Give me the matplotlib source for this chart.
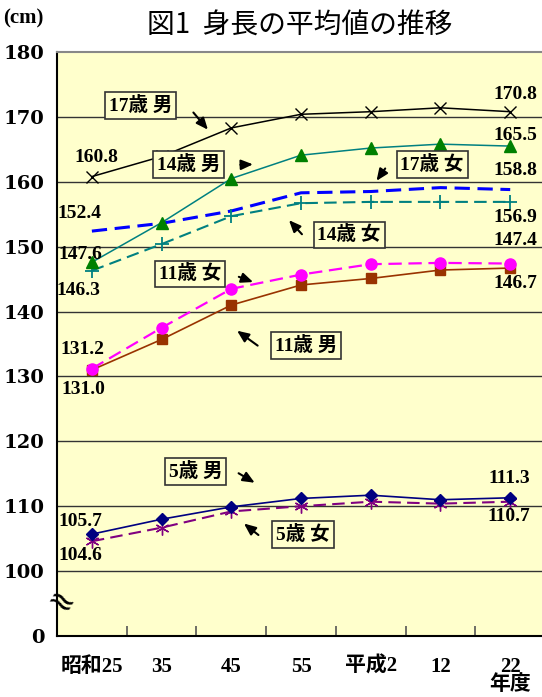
import numpy as np
import matplotlib.pyplot as plt

# 年度 (x categories)
years = ["昭和25", "35", "45", "55", "平成2", "12", "22\n年度"]

# 身長の平均値 (cm)
boy17 = [160.8, 163.9, 168.3, 170.4, 170.8, 171.4, 170.8]
boy14 = [147.6, 153.7, 160.5, 164.1, 165.2, 165.8, 165.5]
girl17 = [152.4, 153.6, 155.5, 158.3, 158.5, 159.1, 158.8]
girl14 = [146.3, 150.4, 154.7, 156.7, 156.9, 156.9, 156.9]
girl11 = [131.2, 137.5, 143.5, 145.7, 147.3, 147.5, 147.4]
boy11 = [131.0, 135.7, 141.0, 144.1, 145.1, 146.4, 146.7]
boy5 = [105.7, 108.0, 109.9, 111.2, 111.7, 111.0, 111.3]
girl5 = [104.6, 106.7, 109.2, 110.0, 110.7, 110.4, 110.7]

yticks = [90, 100, 110, 120, 130, 140, 150, 160, 170, 180]
ytick_labels = ["0", "100", "110", "120", "130", "140", "150", "160", "170", "180"]

NUM = ["Liberation Serif", "Noto Sans CJK JP"]
JP = ["Noto Sans CJK JP", "DejaVu Sans"]

fig = plt.figure(figsize=(5.42, 6.97), dpi=100)
ax = fig.add_axes([0.1052, 0.0875, 0.8948, 0.8379])
ax.set_facecolor("#FFFFCC")

x = np.arange(len(years))
asterisk = (6, 2, 0)

ax.plot(x, boy17, color="black", lw=1.1, marker="x", ms=9, mew=1.0, zorder=5)
ax.plot(x, boy14, color="#008080", lw=1.1, marker="^", ms=8, mfc="#008000",
        mec="#008000", zorder=5)
ax.plot(x, girl17, color="#0000FF", lw=2.2, dashes=(5, 2.5), zorder=4)
ax.plot(x, girl14, color="#008080", lw=1.5, dashes=(6, 3), marker="+", ms=10,
        mew=1.3, zorder=4)
ax.plot(x, girl11, color="#FF00FF", lw=1.6, dashes=(6, 3), marker="o", ms=8,
        zorder=5)
ax.plot(x, boy11, color="#993300", lw=1.2, marker="s", ms=7, zorder=4)
ax.plot(x, boy5, color="#000080", lw=1.2, marker="D", ms=6, zorder=5)
ax.plot(x, girl5, color="#800080", lw=1.5, dashes=(6, 3), marker=asterisk,
        ms=10, mew=1.0, zorder=4)

ax.set_xlim(-0.5, 6.456)
ax.set_ylim(90, 180)

# horizontal grid lines (100 - 170)
for g in yticks[1:-1]:
    ax.axhline(g, color="#333333", lw=1.0, zorder=1)

ax.set_yticks(yticks)
ax.set_yticklabels(ytick_labels, fontfamily="DejaVu Serif", fontweight="bold",
                   fontsize=14)
ax.tick_params(axis="y", length=0, pad=9)

ax.set_xticks(x)
ax.set_xticklabels(years, fontfamily=NUM, fontweight=600, fontsize=15,
                   linespacing=0.85, va="top")
ax.set_xticks(x[:-1] + 0.5, minor=True)
ax.tick_params(axis="x", which="major", length=0, pad=15)
ax.tick_params(axis="x", which="minor", direction="in", length=7,
               color="#555555", width=1.2)

ax.spines["right"].set_visible(False)
ax.spines["top"].set_color("#888888")
ax.spines["top"].set_linewidth(1.5)
ax.spines["left"].set_linewidth(1.5)
ax.spines["bottom"].set_linewidth(1.5)

# break mark on the y axis
ax.text(-0.45, 94.9, "≈", fontsize=24, rotation=-30, ha="center", va="center",
        fontfamily="DejaVu Sans", zorder=6)

fig.text(0.553, 0.963, "図1  身長の平均値の推移", ha="center", va="center",
         fontsize=20, fontfamily=JP, fontweight="normal")
fig.text(0.006, 0.974, "(cm)", ha="left", va="center", fontsize=15,
         fontfamily="Liberation Serif", fontweight="bold")

# value labels at first and last year
ends = [
    (boy17, 0, (4, 19)), (girl17, 0, (-12, 18)), (boy14, 0, (-12, 8)),
    (girl14, 0, (-14, -20)), (girl11, 0, (-9, 19)), (boy11, 0, (-9, -20)),
    (boy5, 0, (-12, 13)), (girl5, 0, (-12, -14)),
    (boy17, 6, (5, 17)), (boy14, 6, (5, 11)), (girl17, 6, (5, 19)),
    (girl14, 6, (5, -16)), (girl11, 6, (5, 23)), (boy11, 6, (5, -15)),
    (boy5, 6, (-1, 19)), (girl5, 6, (-1, -15)),
]
for series, i, off in ends:
    ax.annotate(f"{series[i]:.1f}", (i, series[i]), xytext=off,
                textcoords="offset pixels", ha="center", va="center",
                fontsize=14, fontfamily="Liberation Serif", fontweight="bold",
                zorder=7)

# series name boxes with arrows
names = [
    ("17歳 男", (0.70, 171.7), (1.43, 171.0), (1.69, 167.7)),
    ("14歳 男", (1.39, 162.6), (2.09, 162.6), (2.35, 162.7)),
    ("17歳 女", (4.88, 162.7), (4.23, 162.4), (4.06, 159.8)),
    ("14歳 女", (3.69, 151.8), (3.04, 151.6), (2.80, 154.4)),
    ("11歳 女", (1.41, 145.8), (2.07, 145.5), (2.35, 144.4)),
    ("11歳 男", (3.07, 134.8), (2.41, 134.5), (2.05, 137.3)),
    ("5歳 男", (1.49, 115.3), (2.07, 115.3), (2.37, 113.4)),
    ("5歳 女", (3.03, 105.6), (2.42, 105.3), (2.15, 107.6)),
]
for label, pos, tail, head in names:
    ax.text(pos[0], pos[1], label, ha="center", va="center", fontsize=14,
            fontfamily=NUM, fontweight=600, zorder=8,
            bbox=dict(boxstyle="square,pad=0.2", fc="#FFFFCC", ec="#333333",
                      lw=1.2))
    ax.annotate("", xy=head, xytext=tail, zorder=8,
                arrowprops=dict(arrowstyle="-|>,head_length=0.7,head_width=0.3",
                                color="black", lw=1.5))

fig.savefig("out.png", dpi=100)
